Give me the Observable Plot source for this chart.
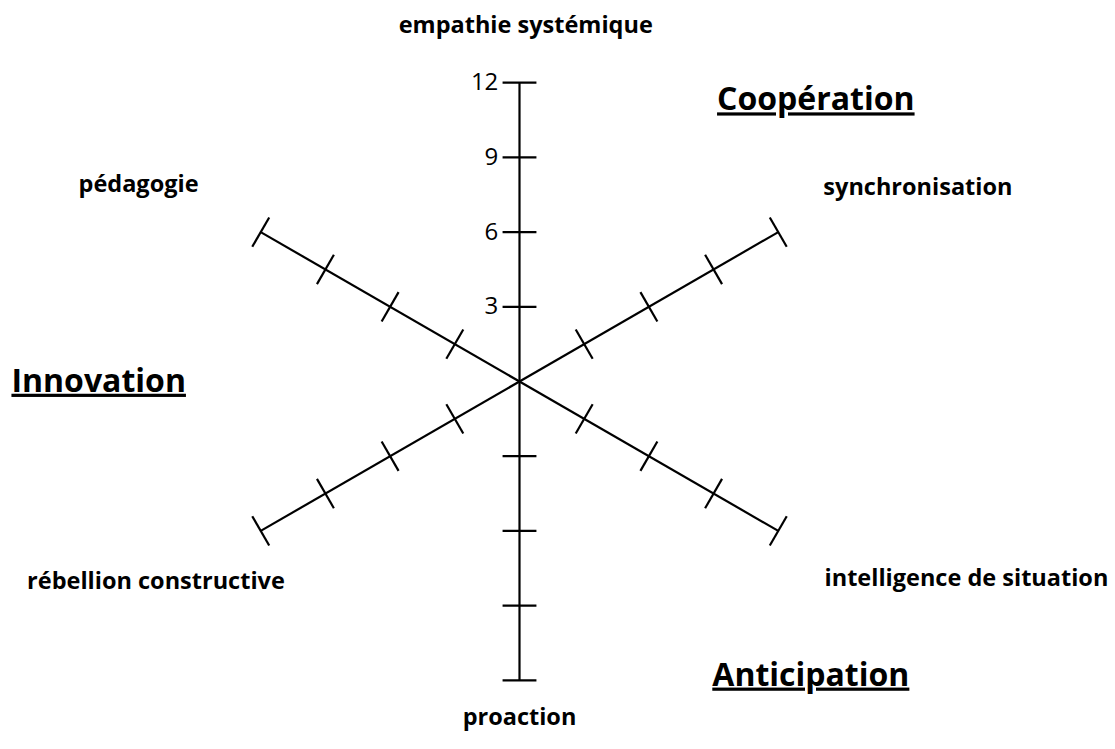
<!DOCTYPE html>
<html>
<head>
<meta charset="utf-8">
<script src="https://cdn.jsdelivr.net/npm/d3@7"></script>
<script src="https://cdn.jsdelivr.net/npm/@observablehq/plot@0.6"></script>
<style>
  html, body { margin: 0; padding: 0; background: #fff; }
  #chart svg { display: block; }
</style>
</head>
<body>
<div id="chart"></div>
<script>
// ---- data ----
const axisNames = ["empathie systémique", "synchronisation", "intelligence de situation", "proaction", "rébellion constructive", "pédagogie"];
const axisAngles = [90, 30, -30, -90, 210, 150];
const axisMax = 12;
const tickValues = [3, 6, 9, 12];
const tickLabels = ["3", "6", "9", "12"];
const groupNames = ["Coopération", "Anticipation", "Innovation"];

// ---- layout (label anchors in scale units) ----
const axisLabelPos = [[0.25, 14.3], [16.0, 7.8], [17.95, -7.9], [0, -13.5], [-14.6, -8.05], [-15.3, 7.9]];
const groupLabelPos = [[11.9, 11.3], [11.7, -11.8], [-16.9, 0]];

const W = 1115, H = 749, cx = 519, cy = 381, unit = 24.9;
const tickHalf = 0.68;
const rad = d => d * Math.PI / 180;

const axes = axisNames.map((name, i) => ({name, a: rad(axisAngles[i])}));
const spokes = axes.map(d => ({x1: 0, y1: 0, x2: Math.cos(d.a) * axisMax, y2: Math.sin(d.a) * axisMax}));
const ticks = axes.flatMap(d => tickValues.map(v => {
  const px = Math.cos(d.a) * v, py = Math.sin(d.a) * v;
  const nx = -Math.sin(d.a) * tickHalf, ny = Math.cos(d.a) * tickHalf;
  return {x1: px - nx, y1: py - ny, x2: px + nx, y2: py + ny};
}));
const tickText = tickValues.map((v, i) => ({x: -tickHalf - 0.17, y: v, label: tickLabels[i]}));
const axisText = axisNames.map((n, i) => ({x: axisLabelPos[i][0], y: axisLabelPos[i][1], label: n}));
const groupText = groupNames.map((n, i) => ({x: groupLabelPos[i][0], y: groupLabelPos[i][1], label: n}));

const font = "'Open Sans', sans-serif";
const chart = Plot.plot({
  width: W, height: H,
  margin: 0,
  style: {fontFamily: font, background: "#fff"},
  x: {domain: [-cx / unit, (W - cx) / unit], axis: null},
  y: {domain: [-(H - cy) / unit, cy / unit], axis: null},
  marks: [
    Plot.link(spokes, {x1: "x1", y1: "y1", x2: "x2", y2: "y2", stroke: "#000", strokeWidth: 2.2}),
    Plot.link(ticks, {x1: "x1", y1: "y1", x2: "x2", y2: "y2", stroke: "#000", strokeWidth: 2.2}),
    Plot.text(tickText, {x: "x", y: "y", text: "label", textAnchor: "end", fontSize: 24, fill: "#000"}),
    Plot.text(axisText, {x: "x", y: "y", text: "label", fontSize: 23.5, fontWeight: "bold", fill: "#000"}),
    Plot.text(groupText, {x: "x", y: "y", text: "label", fontSize: 32, fontWeight: "bold", fill: "#000"})
  ]
});
d3.select(chart).selectAll("text")
  .filter(function() { return groupNames.includes(this.textContent); })
  .style("text-decoration", "underline")
  .style("text-decoration-thickness", "2.5px");
document.getElementById("chart").appendChild(chart);
</script>
</body>
</html>
